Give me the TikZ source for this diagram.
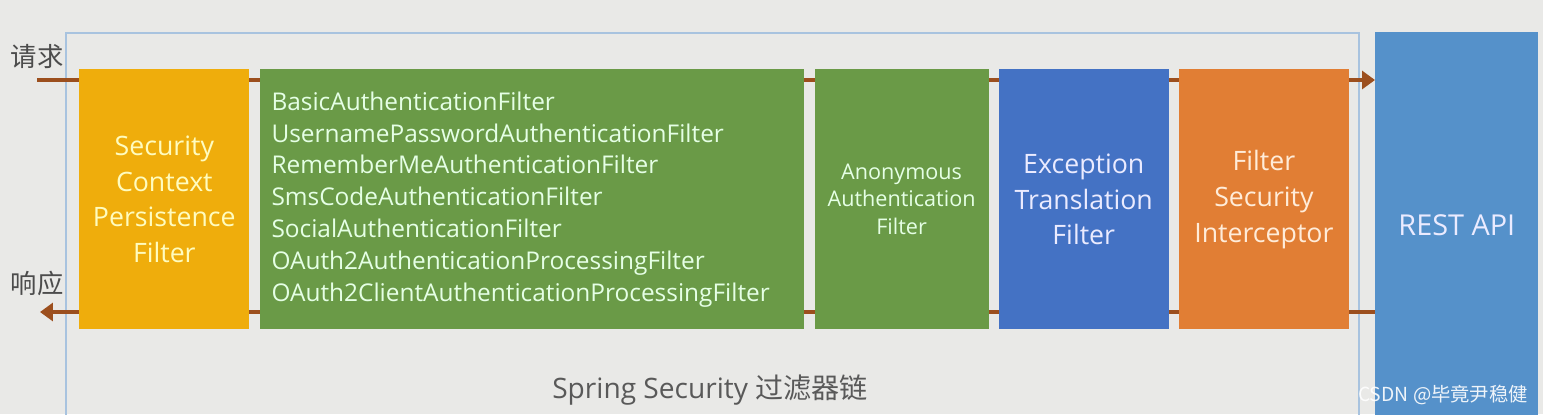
\documentclass[tikz,border=0pt]{standalone}
\usepackage{fontspec}
\setmainfont{Open Sans}
\newfontfamily\cjk{Noto Sans CJK SC}
\usetikzlibrary{arrows.meta,positioning,backgrounds}

\definecolor{pageGray}{HTML}{E9E9E7}
\definecolor{frameBlue}{HTML}{A8C3DF}
\definecolor{flowBrown}{HTML}{9C4F1E}
\definecolor{scpfYellow}{HTML}{EFAD0C}
\definecolor{authGreen}{HTML}{6A9A47}
\definecolor{excBlue}{HTML}{4472C4}
\definecolor{fsiOrange}{HTML}{E17E34}
\definecolor{restBlue}{HTML}{5591CA}

\begin{document}
\begin{tikzpicture}[
        x=0.02cm, y=-0.02cm,
        node distance=0.19cm,
        filterbox/.style={minimum height=5.2cm, minimum width=3.4cm, inner sep=0pt, align=center, font=\fontsize{15.2}{20.4}\selectfont},
        flow/.style={line width=2.2pt, draw=flowBrown},
        flowarr/.style={flow, -{Triangle[length=2.6mm, width=3.6mm]}}
      ]
        \useasboundingbox (0,0) rectangle (1543,414);
        \node[filterbox, fill=scpfYellow, text=yellow!25!white, anchor=north west] (scpf) at (79,69) {Security\\Context\\Persistence\\Filter};
        \node[filterbox, fill=authGreen, text=green!10!white, right=of scpf, minimum width=10.9cm, inner xsep=0.24cm, text width=10.42cm, align=left, font=\fontsize{13.9}{18.1}\selectfont] (auth) {BasicAuthenticationFilter\\UsernamePasswordAuthenticationFilter\\RememberMeAuthenticationFilter\\SmsCodeAuthenticationFilter\\SocialAuthenticationFilter\\OAuth2AuthenticationProcessingFilter\\OAuth2ClientAuthenticationProcessingFilter};
        \node[filterbox, fill=authGreen, text=green!10!white, right=of auth, minimum width=3.48cm, font=\fontsize{12.3}{15.9}\selectfont] (anon) {Anonymous\\Authentication\\Filter};
        \node[filterbox, fill=excBlue, text=blue!8!white, right=of anon] (etf) {Exception\\Translation\\Filter};
        \node[filterbox, fill=fsiOrange, text=orange!15!white, right=of etf] (fsi) {Filter\\Security\\Interceptor};
        \node[filterbox, fill=restBlue, text=blue!8!white, anchor=north west, minimum width=3.26cm, minimum height=7.7cm, font=\fontsize{16.4}{20}\selectfont] (rest) at (1375,32) {REST API};

        \node[font=\cjk\fontsize{15}{18}\selectfont, text=black!70] (req) at (37,57) {请求};
        \node[font=\cjk\fontsize{15}{18}\selectfont, text=black!70] (resp) at (37,283) {响应};
        \node[font=\fontsize{16}{19}\selectfont, text=black!65] (chain) at (710,390) {Spring Security {\cjk 过滤器链}};
        \node[font=\cjk\fontsize{11}{13}\selectfont, text=white, opacity=0.9] (mark) at (1443,395) {CSDN @毕竟尹稳健};

        \coordinate (in) at (37,80);
        \coordinate (out) at (40,312);
        \begin{scope}[on background layer]
          \fill[pageGray] (0,0) rectangle (1543,414);
          \draw[frameBlue, line width=1pt] (66,33) rectangle (1359,416);
          \draw[flowarr] (in) -- (in -| rest.west);
          \draw[flowarr] (out -| rest.west) -- (out);
        \end{scope}
      \end{tikzpicture}
\end{document}
